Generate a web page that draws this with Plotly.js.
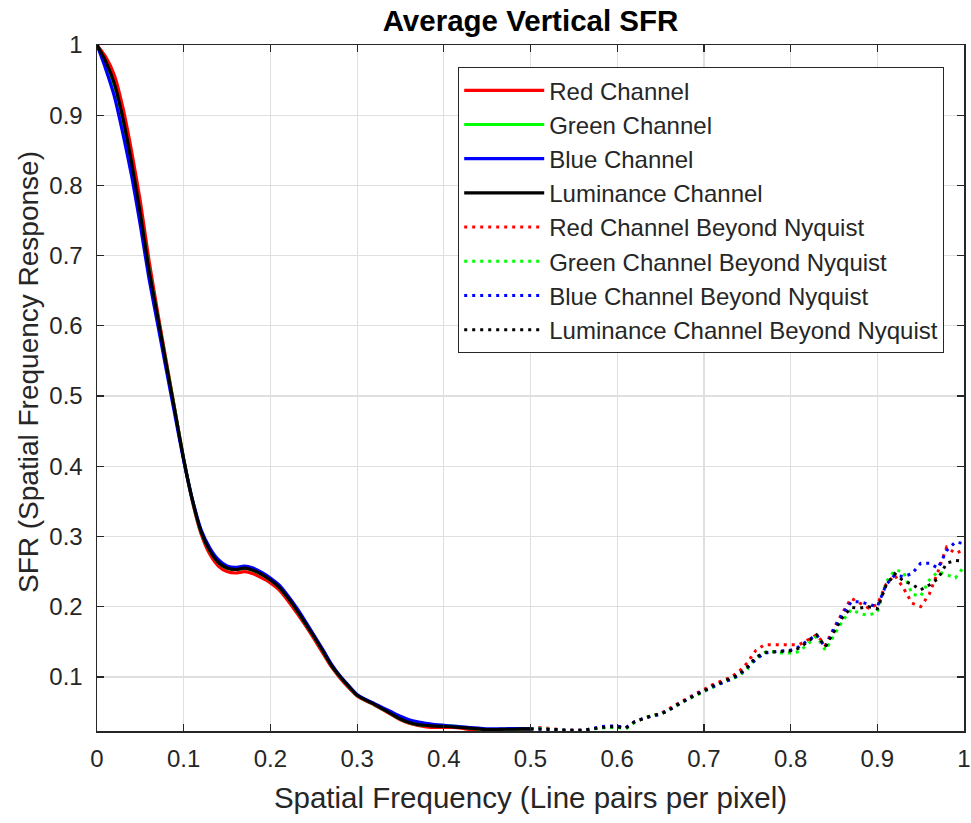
<!DOCTYPE html>
<html>
<head>
<meta charset="utf-8">
<script src="https://cdn.plot.ly/plotly-3.0.1.min.js"></script>
<style>html,body{margin:0;padding:0;background:#fff;}#chart{width:971px;height:823px;}</style>
</head>
<body>
<div id="chart"></div>
<script>
// Spatial frequency (line pairs per pixel)
const freqBelow = [0.00,0.01,0.02,0.03,0.04,0.05,0.06,0.07,0.08,0.09,0.10,0.11,0.12,0.13,0.14,0.15,0.16,0.17,0.18,0.19,0.20,0.21,0.22,0.23,0.24,0.25,0.26,0.27,0.28,0.29,0.30,0.31,0.32,0.33,0.34,0.35,0.36,0.37,0.38,0.39,0.40,0.41,0.42,0.43,0.44,0.45,0.46,0.47,0.48,0.49,0.50];
const freqBeyond = [0.50,0.51,0.52,0.53,0.54,0.55,0.56,0.57,0.58,0.59,0.60,0.61,0.62,0.63,0.64,0.65,0.66,0.67,0.68,0.69,0.70,0.71,0.72,0.73,0.74,0.75,0.76,0.77,0.78,0.79,0.80,0.81,0.82,0.83,0.84,0.85,0.86,0.87,0.88,0.89,0.90,0.91,0.92,0.93,0.94,0.95,0.96,0.97,0.98,0.99,1.00];

// SFR up to Nyquist
const redSFR   = [1.000,0.983,0.957,0.910,0.848,0.777,0.693,0.619,0.549,0.479,0.410,0.350,0.304,0.275,0.258,0.250,0.248,0.250,0.247,0.241,0.234,0.224,0.209,0.192,0.174,0.155,0.135,0.115,0.099,0.085,0.073,0.066,0.060,0.053,0.046,0.039,0.034,0.031,0.029,0.028,0.028,0.028,0.027,0.025,0.023,0.0225,0.022,0.0225,0.024,0.025,0.026];
const greenSFR = [1.000,0.975,0.940,0.890,0.828,0.757,0.680,0.612,0.545,0.478,0.410,0.352,0.307,0.280,0.263,0.255,0.253,0.255,0.252,0.246,0.238,0.228,0.213,0.196,0.177,0.158,0.138,0.117,0.101,0.087,0.074,0.067,0.061,0.054,0.047,0.040,0.035,0.032,0.031,0.031,0.031,0.030,0.029,0.027,0.026,0.025,0.025,0.0255,0.0255,0.026,0.026];
const blueSFR  = [1.000,0.966,0.927,0.873,0.813,0.743,0.667,0.602,0.537,0.472,0.408,0.353,0.310,0.284,0.267,0.258,0.256,0.258,0.255,0.249,0.241,0.231,0.216,0.199,0.180,0.160,0.140,0.119,0.102,0.088,0.075,0.068,0.062,0.056,0.050,0.044,0.039,0.036,0.034,0.032,0.031,0.030,0.029,0.028,0.027,0.026,0.026,0.026,0.0265,0.0265,0.026];
const lumSFR   = [1.000,0.977,0.945,0.895,0.832,0.760,0.680,0.613,0.545,0.478,0.410,0.352,0.307,0.280,0.263,0.255,0.253,0.255,0.252,0.246,0.238,0.228,0.213,0.196,0.177,0.158,0.138,0.117,0.101,0.087,0.074,0.067,0.061,0.054,0.047,0.040,0.035,0.032,0.031,0.030,0.0295,0.029,0.028,0.027,0.026,0.025,0.025,0.0255,0.0255,0.026,0.026];

// SFR beyond Nyquist
const redBeyond   = [0.026,0.028,0.027,0.025,0.024,0.024,0.024,0.026,0.028,0.029,0.029,0.027,0.036,0.041,0.045,0.048,0.055,0.063,0.069,0.076,0.082,0.089,0.094,0.099,0.107,0.120,0.138,0.146,0.146,0.146,0.145,0.146,0.153,0.160,0.145,0.170,0.192,0.212,0.205,0.198,0.203,0.232,0.245,0.227,0.205,0.200,0.218,0.250,0.285,0.276,0.281];
const greenBeyond = [0.026,0.027,0.026,0.025,0.024,0.023,0.024,0.026,0.027,0.028,0.028,0.026,0.035,0.041,0.045,0.047,0.054,0.061,0.067,0.073,0.079,0.086,0.091,0.096,0.101,0.111,0.127,0.135,0.136,0.134,0.134,0.136,0.147,0.158,0.138,0.160,0.180,0.196,0.190,0.188,0.192,0.235,0.252,0.250,0.218,0.215,0.238,0.250,0.246,0.241,0.257];
const blueBeyond  = [0.026,0.026,0.026,0.025,0.024,0.024,0.024,0.026,0.029,0.030,0.030,0.028,0.036,0.041,0.044,0.047,0.053,0.060,0.068,0.075,0.080,0.086,0.091,0.096,0.102,0.113,0.125,0.134,0.136,0.137,0.138,0.143,0.152,0.160,0.142,0.168,0.190,0.207,0.207,0.204,0.200,0.231,0.245,0.243,0.247,0.262,0.262,0.255,0.280,0.292,0.290];
const lumBeyond   = [0.026,0.026,0.0255,0.025,0.024,0.0235,0.024,0.026,0.028,0.029,0.029,0.027,0.036,0.041,0.045,0.047,0.053,0.061,0.068,0.074,0.080,0.087,0.092,0.097,0.103,0.114,0.128,0.135,0.136,0.136,0.137,0.141,0.150,0.160,0.143,0.163,0.185,0.199,0.198,0.200,0.197,0.230,0.247,0.237,0.232,0.224,0.231,0.240,0.262,0.266,0.265];

const seriesNames = ['Red Channel','Green Channel','Blue Channel','Luminance Channel',
  'Red Channel Beyond Nyquist','Green Channel Beyond Nyquist','Blue Channel Beyond Nyquist','Luminance Channel Beyond Nyquist'];
const xTickVals = [0,0.1,0.2,0.3,0.4,0.5,0.6,0.7,0.8,0.9,1];
const xTickText = ['0','0.1','0.2','0.3','0.4','0.5','0.6','0.7','0.8','0.9','1'];
const yTickVals = [0.1,0.2,0.3,0.4,0.5,0.6,0.7,0.8,0.9,1];
const yTickText = ['0.1','0.2','0.3','0.4','0.5','0.6','0.7','0.8','0.9','1'];
const yLabel = 'SFR (Spatial Frequency Response)';

const colors = ['#ff0000','#00ff00','#0000ff','#000000'];
const solidY = [redSFR, greenSFR, blueSFR, lumSFR];
const dotY = [redBeyond, greenBeyond, blueBeyond, lumBeyond];

const traces = [];
for (let i = 0; i < 4; i++) {
  traces.push({x: freqBelow, y: solidY[i], type: 'scatter', mode: 'lines', name: seriesNames[i],
    line: {color: colors[i], width: 3.2, shape: 'spline', smoothing: 0.6}});
}
for (let i = 0; i < 4; i++) {
  traces.push({x: freqBeyond, y: dotY[i], type: 'scatter', mode: 'lines', name: seriesNames[i+4],
    line: {color: colors[i], width: 3, dash: '3px,5px'}});
}

const FONT = '"Liberation Sans", Arial, Helvetica, sans-serif';
const axisCol = '#262626';
const layout = {
  width: 971, height: 823,
  margin: {l: 97, r: 7, t: 45, b: 92, pad: 0},
  paper_bgcolor: '#ffffff', plot_bgcolor: '#ffffff',
  font: {family: FONT, color: axisCol},
  title: {text: '<b>Average Vertical SFR</b>', font: {family: FONT, size: 29.5, color: '#000000'},
    x: 0.5, xref: 'paper', xanchor: 'center', y: 1 - 21/823, yref: 'container', yanchor: 'middle'},
  xaxis: {range: [0, 1], tickvals: xTickVals, ticktext: xTickText, showgrid: true, gridcolor: '#dfdfdf', gridwidth: 1.2,
    zeroline: false, showline: true, linecolor: axisCol, linewidth: 1.5, mirror: 'ticks',
    ticks: 'inside', ticklen: 7, tickcolor: axisCol, tickwidth: 1.2, ticklabelstandoff: 6,
    tickfont: {family: FONT, size: 24, color: axisCol},
    title: {text: 'Spatial Frequency (Line pairs per pixel)', font: {family: FONT, size: 29.5, color: axisCol}, standoff: 16}},
  yaxis: {range: [0.023, 1], tickvals: yTickVals, ticktext: yTickText, showgrid: true, gridcolor: '#dfdfdf', gridwidth: 1.2,
    zeroline: false, showline: true, linecolor: axisCol, linewidth: 1.5, mirror: 'ticks',
    ticks: 'inside', ticklen: 7, tickcolor: axisCol, tickwidth: 1.2, ticklabelstandoff: 8,
    tickfont: {family: FONT, size: 24, color: axisCol}},
  annotations: [{text: yLabel, textangle: -90, showarrow: false,
    xref: 'paper', x: (28-97)/867, xanchor: 'center',
    yref: 'paper', y: 1 - (372-45)/686, yanchor: 'middle',
    font: {family: FONT, size: 28, color: axisCol}}],
  legend: {x: (944-97)/867, y: 1 - (67-45)/686, xanchor: 'right', yanchor: 'top',
    bgcolor: '#ffffff', bordercolor: axisCol, borderwidth: 1.2,
    font: {family: FONT, size: 24, color: axisCol}, itemwidth: 80, tracegroupgap: 0},
  showlegend: true
};

Plotly.newPlot('chart', traces, layout, {displayModeBar: false, staticPlot: true});
</script>
</body>
</html>
